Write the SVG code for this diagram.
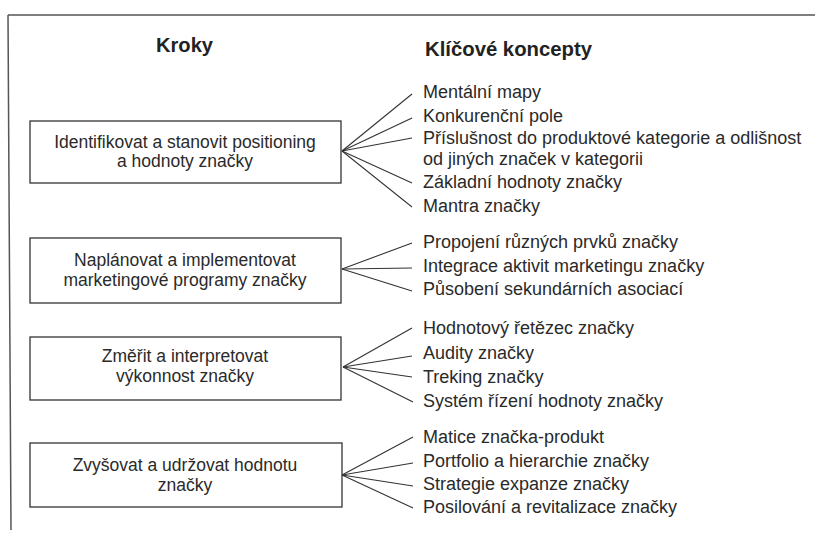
<svg xmlns="http://www.w3.org/2000/svg" width="815" height="534" viewBox="0 0 815 534">
  <style>
    .frame { fill: none; stroke: #555; stroke-width: 1.5; }
    .box { fill: #fff; stroke: #333; stroke-width: 1.3; }
    .btxt { font-family: "Liberation Sans", Arial, sans-serif; font-size: 17.5px; fill: #2a2a2a; text-anchor: middle; }
    .ctxt { font-family: "Liberation Sans", Arial, sans-serif; font-size: 18px; fill: #2a2a2a; }
    .head { font-family: "Liberation Sans", Arial, sans-serif; font-size: 19.5px; font-weight: bold; fill: #222; }
    .conn line { stroke: #333; stroke-width: 1.1; }
  </style>
  <rect width="815" height="534" fill="#fff"/>

  <!-- outer frame -->
  <path class="frame" d="M8,15 L815,15 M8,15 L11,530"/>

  <!-- column headers -->
  <text class="head" x="156" y="52" textLength="57" lengthAdjust="spacingAndGlyphs">Kroky</text>
  <text class="head" x="425" y="56" textLength="167" lengthAdjust="spacingAndGlyphs">Klíčové koncepty</text>

  <!-- steps -->
  <g id="step1">
    <rect class="box" x="30" y="121" width="311" height="62"/>
    <text class="btxt" x="185" y="148">Identifikovat a stanovit positioning</text>
    <text class="btxt" x="185" y="167">a hodnoty značky</text>
  </g>
  <g id="step2">
    <rect class="box" x="30" y="238" width="311" height="65"/>
    <text class="btxt" x="185" y="266">Naplánovat a implementovat</text>
    <text class="btxt" x="185" y="286">marketingové programy značky</text>
  </g>
  <g id="step3">
    <rect class="box" x="30" y="337" width="311" height="63"/>
    <text class="btxt" x="185" y="362">Změřit a interpretovat</text>
    <text class="btxt" x="185" y="382">výkonnost značky</text>
  </g>
  <g id="step4">
    <rect class="box" x="30" y="443" width="312" height="64"/>
    <text class="btxt" x="185" y="471">Zvyšovat a udržovat hodnotu</text>
    <text class="btxt" x="185" y="491">značky</text>
  </g>

  <!-- connectors fanning out to key concepts -->
  <g id="connectors" class="conn">
    <line x1="342" y1="151" x2="412" y2="94"/>
    <line x1="342" y1="151" x2="412" y2="118"/>
    <line x1="342" y1="151" x2="412" y2="138"/>
    <line x1="342" y1="151" x2="412" y2="183"/>
    <line x1="342" y1="151" x2="412" y2="207"/>

    <line x1="342" y1="269" x2="412" y2="243"/>
    <line x1="342" y1="269" x2="412" y2="268"/>
    <line x1="342" y1="269" x2="412" y2="291"/>

    <line x1="343" y1="367" x2="412" y2="328"/>
    <line x1="343" y1="367" x2="412" y2="356"/>
    <line x1="343" y1="367" x2="412" y2="377"/>
    <line x1="343" y1="367" x2="413" y2="402"/>

    <line x1="342" y1="475" x2="413" y2="437"/>
    <line x1="342" y1="475" x2="413" y2="463"/>
    <line x1="342" y1="475" x2="413" y2="486"/>
    <line x1="342" y1="475" x2="413" y2="508"/>
  </g>

  <!-- key concepts -->
  <g id="concepts1">
    <text class="ctxt" x="423" y="98">Mentální mapy</text>
    <text class="ctxt" x="423" y="122">Konkurenční pole</text>
    <text class="ctxt" x="423" y="144">Příslušnost do produktové kategorie a odlišnost</text>
    <text class="ctxt" x="423" y="165">od jiných značek v kategorii</text>
    <text class="ctxt" x="423" y="188">Základní hodnoty značky</text>
    <text class="ctxt" x="423" y="212">Mantra značky</text>
  </g>
  <g id="concepts2">
    <text class="ctxt" x="423" y="248">Propojení různých prvků značky</text>
    <text class="ctxt" x="423" y="272">Integrace aktivit marketingu značky</text>
    <text class="ctxt" x="423" y="295">Působení sekundárních asociací</text>
  </g>
  <g id="concepts3">
    <text class="ctxt" x="423" y="334">Hodnotový řetězec značky</text>
    <text class="ctxt" x="423" y="359">Audity značky</text>
    <text class="ctxt" x="423" y="383">Treking značky</text>
    <text class="ctxt" x="423" y="407">Systém řízení hodnoty značky</text>
  </g>
  <g id="concepts4">
    <text class="ctxt" x="423" y="443">Matice značka-produkt</text>
    <text class="ctxt" x="423" y="467">Portfolio a hierarchie značky</text>
    <text class="ctxt" x="423" y="490">Strategie expanze značky</text>
    <text class="ctxt" x="423" y="513">Posilování a revitalizace značky</text>
  </g>
</svg>
